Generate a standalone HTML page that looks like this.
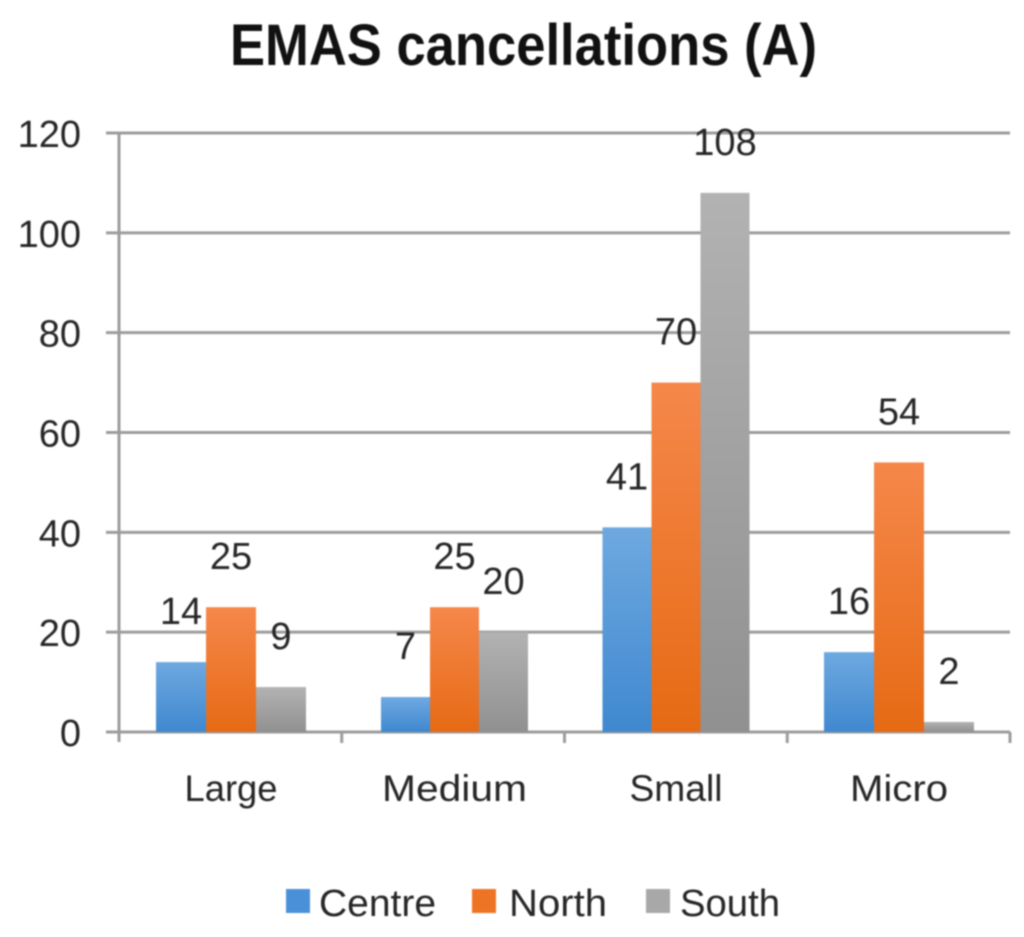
<!DOCTYPE html>
<html>
<head>
<meta charset="utf-8">
<style>
html,body{margin:0;padding:0;background:#fff;}
svg{display:block;filter:blur(0.9px);}
text{font-family:"Liberation Sans",sans-serif;fill:#262626;}
</style>
</head>
<body>
<svg id="chart" width="1024" height="937" viewBox="0 0 1024 937" xmlns="http://www.w3.org/2000/svg">
<defs>
<linearGradient id="gc" x1="0" y1="0" x2="0" y2="1"><stop offset="0" stop-color="#6ea8e0"/><stop offset="1" stop-color="#3f88cf"/></linearGradient>
<linearGradient id="gn" x1="0" y1="0" x2="0" y2="1"><stop offset="0" stop-color="#f5874a"/><stop offset="1" stop-color="#e66a14"/></linearGradient>
<linearGradient id="gs" x1="0" y1="0" x2="0" y2="1"><stop offset="0" stop-color="#b2b2b2"/><stop offset="1" stop-color="#909090"/></linearGradient>
</defs>
<text x="230" y="65" font-size="58" font-weight="bold" textLength="587" lengthAdjust="spacingAndGlyphs" style="fill:#111">EMAS cancellations (A)</text>
<g id="plot"></g>
</svg>
<script>
const categories = ["Large", "Medium", "Small", "Micro"];
const seriesNames = ["Centre", "North", "South"];
const centreValues = [14, 7, 41, 16];
const northValues = [25, 25, 70, 54];
const southValues = [9, 20, 108, 2];
const yTicks = [0, 20, 40, 60, 80, 100, 120];

const svgNS = "http://www.w3.org/2000/svg";
const plot = document.getElementById("plot");
const allSeries = [centreValues, northValues, southValues];
const fills = ["url(#gc)", "url(#gn)", "url(#gs)"];
const legendFills = ["#4a90d9", "#ee7424", "#a8a8a8"];
const left = 119, right = 1010, top0 = 133, bottom = 732, yMax = 120;
const groupCentres = [231, 454.5, 676, 899];
const groupBarWidths = [50, 49, 49, 50];
const categoryTextWidths = [93, 145, 93, 98];
const labelLift = 38;

function yScale(v){ return bottom - (v / yMax) * (bottom - top0); }
function add(tag, attrs, text){
  const el = document.createElementNS(svgNS, tag);
  for (const k in attrs) el.setAttribute(k, attrs[k]);
  if (text !== undefined) el.textContent = text;
  plot.appendChild(el);
  return el;
}

yTicks.forEach(function(t){
  const y = yScale(t);
  const grid = add("line", {x1:106, x2:right, y1:y, y2:y, stroke:"#9c9c9c", "stroke-width":3});
  
  
  const label = add("text", {x:81, y:y+14, "text-anchor":"end", "font-size":38}, String(t));
  
  
});

const yAxis = add("line", {x1:left, x2:left, y1:top0, y2:bottom+10, stroke:"#9c9c9c", "stroke-width":3});



const band = (right - left) / categories.length;
for (let i = 1; i <= categories.length; i++) {
  const x = left + band * i;
  const tick = add("line", {x1:x, x2:x, y1:bottom, y2:bottom+11, stroke:"#9c9c9c", "stroke-width":3});
  
  
}

categories.forEach(function(cat, c){
  const w = groupBarWidths[c];
  allSeries.forEach(function(values, s){
    const x = groupCentres[c] - w * 1.5 + w * s;
    const y = yScale(values[c]);
    const bar = add("rect", {x:x, y:y, width:w, height:bottom - y, fill:fills[s]});
    
    
    const valueLabel = add("text", {x:x + w/2, y:y - labelLift, "text-anchor":"middle", "font-size":38}, String(values[c]));
    
    
  });
  const catLabel = add("text", {x:groupCentres[c], y:801, "text-anchor":"middle", "font-size":37, textLength:categoryTextWidths[c], lengthAdjust:"spacingAndGlyphs"}, cat);
  
  
});

const legendSwatchX = [286, 472, 646];
const legendTextX = [319, 509, 680];
const legendTextWidths = [117, 98, 100];
seriesNames.forEach(function(name, s){
  const swatch = add("rect", {x:legendSwatchX[s], y:889, width:24, height:24, fill:legendFills[s]});
  
  
  const legendText = add("text", {x:legendTextX[s], y:916, "font-size":38, textLength:legendTextWidths[s], lengthAdjust:"spacingAndGlyphs"}, name);
  
  
});
</script>
</body>
</html>
